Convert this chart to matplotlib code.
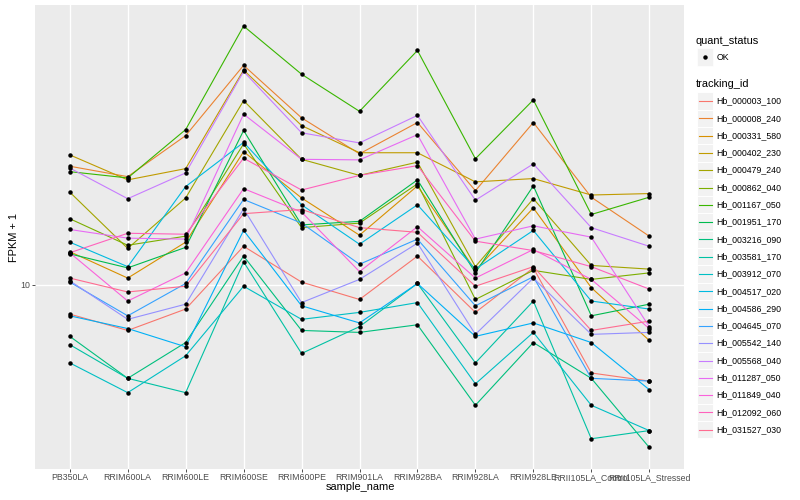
import numpy as np
import matplotlib
matplotlib.use("Agg")
import matplotlib.pyplot as plt
from matplotlib.patches import Rectangle
from matplotlib.lines import Line2D
from matplotlib.ticker import NullLocator

plt.rcParams['font.family'] = ['Liberation Sans', 'DejaVu Sans']

samples = ["PB350LA", "RRIM600LA", "RRIM600LE", "RRIM600SE", "RRIM600PE", "RRIM901LA",
           "RRIM928BA", "RRIM928LA", "RRIM928LE", "RRII105LA_Control", "RRII105LA_Stressed"]

# FPKM + 1, one list per gene, in sample order
hb_000003_100 = [8.1, 7.2, 8.4, 13.2, 10.2, 9.0, 12.3, 8.2, 11.3, 5.3, 5.0]
hb_000008_240 = [23.5, 21.8, 29.3, 48.6, 33.3, 25.7, 32.2, 19.7, 32.2, 18.8, 14.2]
hb_000331_580 = [12.7, 10.5, 13.6, 26.1, 18.7, 14.3, 20.4, 11.1, 17.4, 9.8, 6.7]
hb_000402_230 = [25.5, 21.3, 23.1, 47.0, 31.5, 25.9, 25.9, 21.0, 21.5, 19.1, 19.3]
hb_000479_240 = [19.5, 13.0, 18.7, 37.7, 24.7, 22.0, 24.2, 11.4, 18.6, 11.5, 11.2]
hb_000862_040 = [16.1, 13.3, 14.2, 27.6, 15.1, 15.6, 20.7, 9.0, 11.1, 10.4, 10.9]
hb_001167_050 = [22.6, 21.6, 30.6, 64.5, 45.6, 34.9, 54.1, 24.8, 37.9, 16.6, 18.8]
hb_001951_170 = [12.5, 11.3, 13.1, 30.4, 15.4, 15.8, 21.3, 10.9, 20.4, 8.0, 8.7]
hb_003216_090 = [6.9, 5.1, 6.6, 12.3, 7.2, 7.1, 7.5, 4.2, 6.6, 5.1, 3.1]
hb_003581_170 = [6.5, 5.1, 4.6, 11.8, 6.1, 7.4, 10.1, 5.7, 8.9, 3.3, 3.5]
hb_003912_070 = [5.7, 4.6, 6.0, 9.9, 7.8, 8.2, 8.8, 4.9, 7.1, 4.2, 3.5]
hb_004517_020 = [13.6, 11.4, 20.3, 27.9, 17.8, 13.4, 17.8, 11.2, 14.8, 8.9, 8.4]
hb_004586_290 = [8.0, 7.3, 6.4, 14.8, 8.6, 7.6, 10.1, 6.9, 7.6, 6.6, 4.7]
hb_004645_070 = [10.2, 8.0, 10.1, 18.5, 15.6, 11.6, 13.9, 8.6, 10.6, 5.1, 5.0]
hb_005542_140 = [10.3, 7.8, 8.7, 17.3, 8.8, 10.4, 13.5, 7.0, 10.5, 7.0, 7.1]
hb_005568_040 = [23.2, 18.6, 22.4, 46.5, 29.9, 27.8, 33.9, 18.4, 23.9, 15.1, 13.2]
hb_011287_050 = [14.9, 14.0, 13.9, 34.2, 24.7, 24.6, 29.5, 13.9, 15.3, 14.1, 7.4]
hb_011849_040 = [12.6, 8.9, 10.9, 20.0, 16.9, 11.0, 15.2, 10.5, 12.9, 10.4, 7.3]
hb_012092_060 = [12.6, 14.5, 14.4, 24.9, 19.8, 22.0, 23.6, 13.7, 12.8, 11.4, 9.7]
hb_031527_030 = [10.5, 9.5, 9.9, 16.7, 17.2, 15.1, 14.6, 9.9, 11.4, 7.2, 7.7]

tracking_ids = ["Hb_000003_100", "Hb_000008_240", "Hb_000331_580", "Hb_000402_230",
                "Hb_000479_240", "Hb_000862_040", "Hb_001167_050", "Hb_001951_170",
                "Hb_003216_090", "Hb_003581_170", "Hb_003912_070", "Hb_004517_020",
                "Hb_004586_290", "Hb_004645_070", "Hb_005542_140", "Hb_005568_040",
                "Hb_011287_050", "Hb_011849_040", "Hb_012092_060", "Hb_031527_030"]
series = [hb_000003_100, hb_000008_240, hb_000331_580, hb_000402_230, hb_000479_240,
          hb_000862_040, hb_001167_050, hb_001951_170, hb_003216_090, hb_003581_170,
          hb_003912_070, hb_004517_020, hb_004586_290, hb_004645_070, hb_005542_140,
          hb_005568_040, hb_011287_050, hb_011849_040, hb_012092_060, hb_031527_030]

# ggplot2 default hue palette for 20 groups
colors = ["#F8766D", "#EA8331", "#D89000", "#C09B00", "#A3A500", "#7CAE00", "#39B600",
          "#00BB4E", "#00BF7D", "#00C1A3", "#00BFC4", "#00BAE0", "#00B0F6", "#35A2FF",
          "#9590FF", "#C77CFF", "#E76BF3", "#FA62DB", "#FF62BC", "#FF6C91"]

W, H = 800, 500
fig = plt.figure(figsize=(W / 100, H / 100), dpi=100)
ax = fig.add_axes([35 / W, 1 - 468.5 / H, (684 - 35) / W, (468.5 - 5) / H])
ax.set_facecolor('#EBEBEB')

x = np.arange(len(samples))
for vals, c in zip(series, colors):
    ax.plot(x, vals, color=c, lw=0.8, zorder=2)
for vals in series:
    ax.plot(x, vals, 'o', color='black', ms=2.2, zorder=3)

ax.set_yscale('log')
allv = np.log10(np.concatenate([np.array(s) for s in series]))
lo, hi = allv.min(), allv.max()
pad = 0.05 * (hi - lo)
ax.set_ylim(10 ** (lo - pad), 10 ** (hi + pad))
ax.set_xlim(-0.6, len(samples) - 0.4)
ax.set_yticks([10])
ax.set_yticklabels(["10"])
ax.yaxis.set_minor_locator(NullLocator())
ax.set_xticks(x)
ax.set_xticklabels(samples)
ax.grid(True, color='white', lw=1.0)
ax.set_axisbelow(True)
for s in ax.spines.values():
    s.set_visible(False)
ax.tick_params(axis='both', length=2, width=0.6, color='#333333', labelsize=6.3,
               labelcolor='#4D4D4D', pad=1.6)

fig.text(360 / W, 1 - 487 / H, "sample_name", ha='center', va='center', fontsize=7.9)
fig.text(14 / W, 1 - 237 / H, "FPKM + 1", ha='center', va='center', fontsize=7.9,
         rotation=90)

# legends, ggplot style
def fx(px):
    return px / W

def fy(py):
    return 1 - py / H

fig.text(fx(696), fy(40.7), "quant_status", ha='left', va='center', fontsize=7.9)
fig.add_artist(Rectangle((fx(697), fy(65.5)), 16 / W, 17 / H, transform=fig.transFigure,
                         facecolor='#F2F2F2', edgecolor='white', lw=0.5))
fig.add_artist(Line2D([fx(705)], [fy(57)], marker='o', color='black', ms=2.2,
                      transform=fig.transFigure))
fig.text(fx(716.7), fy(57), "OK", ha='left', va='center', fontsize=6.3)

fig.text(fx(696), fy(84.3), "tracking_id", ha='left', va='center', fontsize=7.9)
step = 17.3
for i, (name, c) in enumerate(zip(tracking_ids, colors)):
    yc = 101 + i * step
    fig.add_artist(Rectangle((fx(697), fy(yc + step / 2)), 16 / W, step / H,
                             transform=fig.transFigure, facecolor='#F2F2F2',
                             edgecolor='white', lw=0.7))
    fig.add_artist(Line2D([fx(698.5), fx(711.5)], [fy(yc), fy(yc)], color=c, lw=0.8,
                          transform=fig.transFigure))
    fig.text(fx(716.7), fy(yc), name, ha='left', va='center', fontsize=6.3)

fig.savefig("out.png", dpi=100)
